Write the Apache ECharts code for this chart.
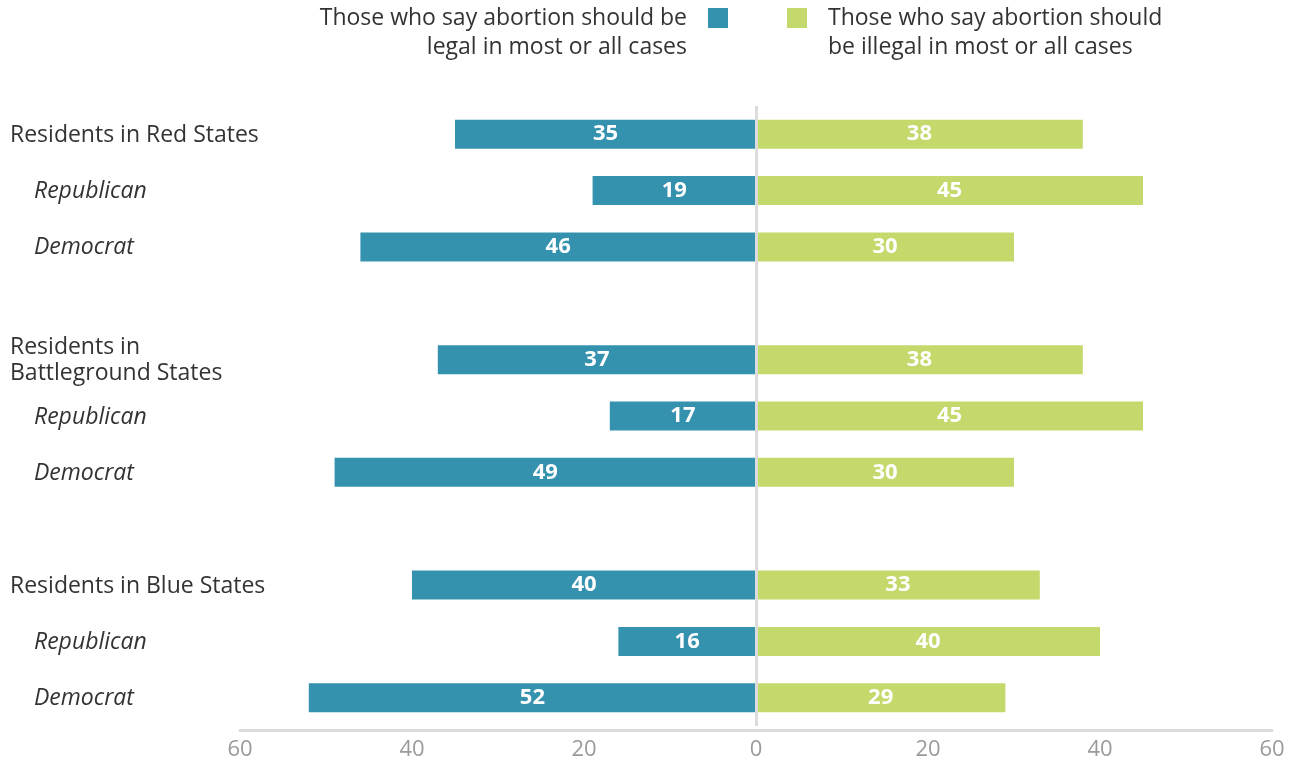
<!DOCTYPE html>
<html>
<head>
<meta charset="utf-8">
<script src="https://cdn.jsdelivr.net/npm/echarts@6/dist/echarts.min.js"></script>
<style>html,body{margin:0;padding:0;background:#fff}#c{width:1294px;height:767px}</style>
</head>
<body>
<div id="c"></div>
<script>
const categories = ['Residents in Red States','Republican','Democrat','',
  'Residents in\nBattleground States','Republican','Democrat','',
  'Residents in Blue States','Republican','Democrat'];
const levels = ['main','sub','sub','gap','main','sub','sub','gap','main','sub','sub'];
const legalValues = [35,19,46,null,37,17,49,null,40,16,52];
const illegalValues = [38,45,30,null,38,45,30,null,33,40,29];
const tickValues = [-60,-40,-20,0,20,40,60];
const legendLegal = 'Those who say abortion should be\nlegal in most or all cases';
const legendIllegal = 'Those who say abortion should\nbe illegal in most or all cases';

const FONT = '"Open Sans", sans-serif';
const BLUE = '#3592AF';
const GREEN = '#C3D96B';
const chart = echarts.init(document.getElementById('c'));

function catLabel(value, index) {
  const lv = levels[index];
  if (lv === 'gap') return '';
  const lines = value.split('\n');
  return lines.map(l => '{' + lv + '|' + l + '}').join('\n');
}

chart.setOption({
  animation: false,
  textStyle: { fontFamily: FONT },
  grid: { left: 240, right: 22, top: 106, bottom: 41 },
  xAxis: {
    type: 'value', min: -60, max: 60, interval: 20, offset: 4,
    axisLine: { show: true, lineStyle: { color: '#dcdcdc', width: 3 } },
    axisTick: { show: false },
    splitLine: { show: false },
    axisLabel: { color: '#9a9a9a', fontSize: 22, fontFamily: FONT, margin: 9,
      formatter: v => tickValues.indexOf(v) >= 0 ? String(Math.abs(v)) : '' }
  },
  yAxis: {
    type: 'category', inverse: true, data: categories,
    axisLine: { show: false }, axisTick: { show: false },
    axisLabel: {
      align: 'left', margin: 230, interval: 0,
      formatter: catLabel,
      rich: {
        main: { fontSize: 23, color: '#333333', fontFamily: FONT, lineHeight: 26, padding: [2,0,0,0] },
        sub: { fontSize: 23, color: '#333333', fontFamily: FONT, fontStyle: 'italic', padding: [2,0,0,24], lineHeight: 26 }
      }
    }
  },
  graphic: [
    { type: 'text', x: 687, y: 4, style: { text: legendLegal, align: 'right', verticalAlign: 'top',
        fontSize: 23, fontFamily: FONT, fill: '#333333', lineHeight: 29 } },
    { type: 'rect', shape: { x: 708, y: 8, width: 20, height: 20 }, style: { fill: BLUE } },
    { type: 'rect', shape: { x: 787, y: 8, width: 20, height: 20 }, style: { fill: GREEN } },
    { type: 'text', x: 828, y: 4, style: { text: legendIllegal, align: 'left', verticalAlign: 'top',
        fontSize: 23, fontFamily: FONT, fill: '#333333', lineHeight: 29 } }
  ],
  series: [
    {
      name: 'legal', type: 'bar', stack: 'a', barWidth: 29,
      data: legalValues.map(v => v == null ? null : -v),
      itemStyle: { color: BLUE },
      label: { show: true, position: 'inside', color: '#fff', fontWeight: 'bold', fontSize: 22, fontFamily: FONT,
        formatter: p => Math.abs(p.value) },
      markLine: {
        silent: true, symbol: 'none', z: 10,
        label: { show: false },
        lineStyle: { color: '#dcdcdc', width: 3, type: 'solid' },
        data: [{ xAxis: 0 }]
      },
      z: 2
    },
    {
      name: 'illegal', type: 'bar', stack: 'a', barWidth: 29,
      data: illegalValues,
      itemStyle: { color: GREEN },
      label: { show: true, position: 'inside', color: '#fff', fontWeight: 'bold', fontSize: 22, fontFamily: FONT },
      z: 2
    }
  ]
});
</script>
</body>
</html>
